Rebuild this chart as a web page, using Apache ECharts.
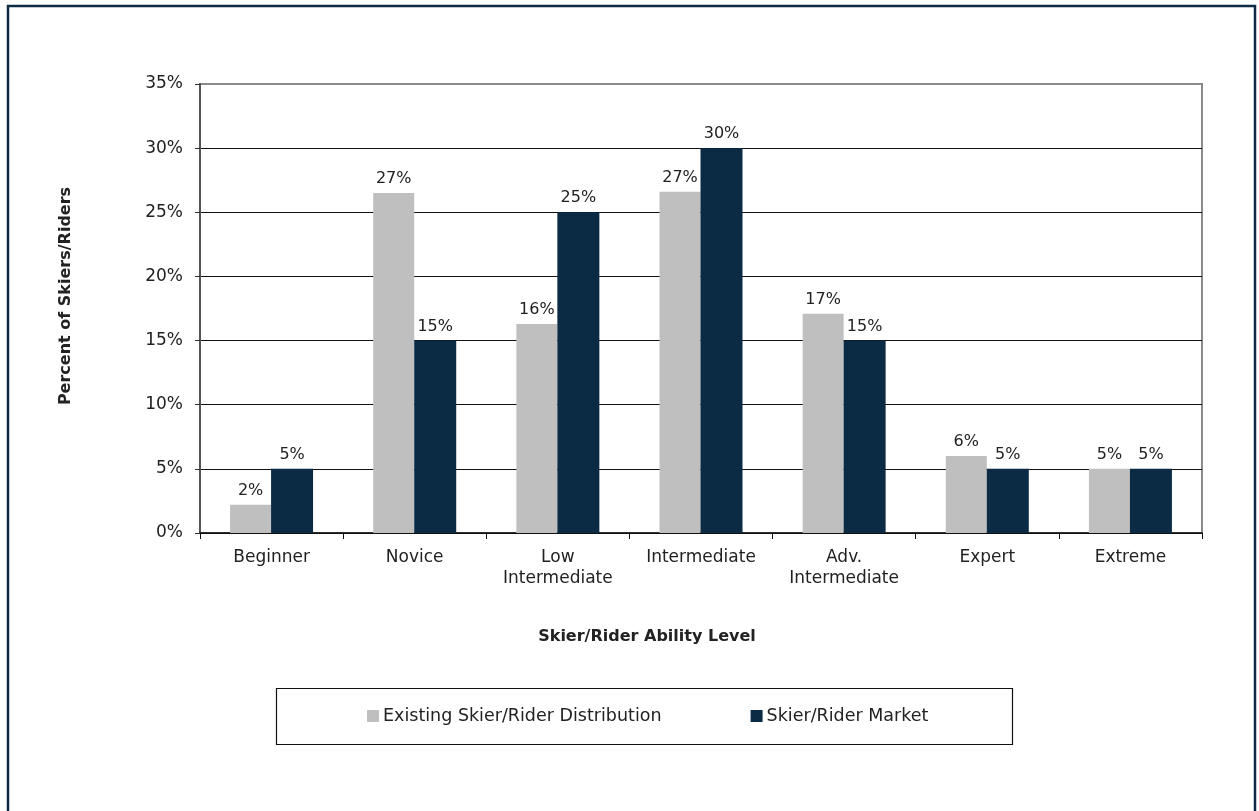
<!DOCTYPE html>
<html>
<head>
<meta charset="utf-8">
<script src="https://cdn.jsdelivr.net/npm/echarts@6/dist/echarts.min.js"></script>
<style>
  html, body { margin: 0; padding: 0; background: #fff; }
  #chart { width: 1259px; height: 811px; }
</style>
</head>
<body>
<div id="chart"></div>
<script>
// Ability levels along the x axis
const categories = ['Beginner', 'Novice', 'Low\nIntermediate', 'Intermediate', 'Adv.\nIntermediate', 'Expert', 'Extreme'];
// Share of skiers/riders per level (%)
const existingDistribution = [2.2, 26.5, 16.3, 26.6, 17.1, 6.0, 5.0];
const riderMarket = [5, 15, 25, 30, 15, 5, 5];
const seriesNames = ['Existing Skier/Rider Distribution', 'Skier/Rider Market'];
const yTicks = { min: 0, max: 35, interval: 5 };

const FONT = '"DejaVu Sans", sans-serif';
const TEXT = '#222';

const chart = echarts.init(document.getElementById('chart'), null, { renderer: 'canvas' });

const labelCfg = {
  show: true,
  position: 'top',
  distance: 6,
  color: TEXT,
  fontFamily: FONT,
  fontSize: 16,
  formatter: p => Math.round(p.value) + '%'
};

chart.setOption({
  animation: false,
  backgroundColor: '#fff',
  grid: {
    left: 200, right: 57, top: 84, bottom: 278,
    show: true, borderColor: '#8a8a8a', borderWidth: 2, backgroundColor: 'transparent'
  },
  legend: {
    left: 367, top: 707, padding: 0,
    itemWidth: 12, itemHeight: 12, itemGap: 89,
    icon: 'rect',
    textStyle: { fontFamily: FONT, fontSize: 17.5, color: TEXT, padding: [0, 0, 0, -1] },
    data: seriesNames
  },
  xAxis: {
    type: 'category',
    data: categories,
    axisLine: { lineStyle: { color: '#111', width: 1.5 } },
    axisTick: { show: true, length: 6, lineStyle: { color: '#111' } },
    axisLabel: { color: TEXT, fontFamily: FONT, fontSize: 17, margin: 14, lineHeight: 21, interval: 0 },
    splitLine: { show: false }
  },
  yAxis: {
    type: 'value',
    min: yTicks.min, max: yTicks.max, interval: yTicks.interval,
    axisLine: { show: true, lineStyle: { color: '#555', width: 2 } },
    axisTick: { show: true, length: 5, lineStyle: { color: '#333' } },
    axisLabel: { color: TEXT, fontFamily: FONT, fontSize: 17, margin: 17, formatter: '{value}%' },
    splitLine: {
      show: true,
      lineStyle: { color: ['#111', '#111', '#111', '#111', '#111', '#111', '#111', '#8a8a8a'], width: 1 }
    }
  },
  series: [
    {
      name: seriesNames[0], type: 'bar', data: existingDistribution,
      itemStyle: { color: '#bfbfbf' },
      barWidth: 41, barGap: '0%',
      label: labelCfg
    },
    {
      name: seriesNames[1], type: 'bar', data: riderMarket,
      itemStyle: { color: '#0b2b44' },
      barWidth: 42, barGap: '0%',
      label: labelCfg
    }
  ],
  graphic: [
    {
      type: 'rect', z: -1, silent: true,
      shape: { x: 8, y: 6, width: 1247, height: 900 },
      style: { fill: 'none', stroke: '#0d2b45', lineWidth: 2.5 }
    },
    {
      type: 'rect', silent: true,
      shape: { x: 276.5, y: 688.5, width: 736, height: 56 },
      style: { fill: 'none', stroke: '#111', lineWidth: 1.2 }
    },
    {
      type: 'text', silent: true,
      x: 647, y: 637,
      style: {
        text: 'Skier/Rider Ability Level', fill: TEXT,
        font: 'bold 16px ' + FONT, align: 'center', verticalAlign: 'middle'
      }
    },
    {
      type: 'text', silent: true,
      x: 66, y: 296, rotation: Math.PI / 2,
      style: {
        text: 'Percent of Skiers/Riders', fill: TEXT,
        font: 'bold 16px ' + FONT, align: 'center', verticalAlign: 'middle'
      }
    }
  ]
});
</script>
</body>
</html>
